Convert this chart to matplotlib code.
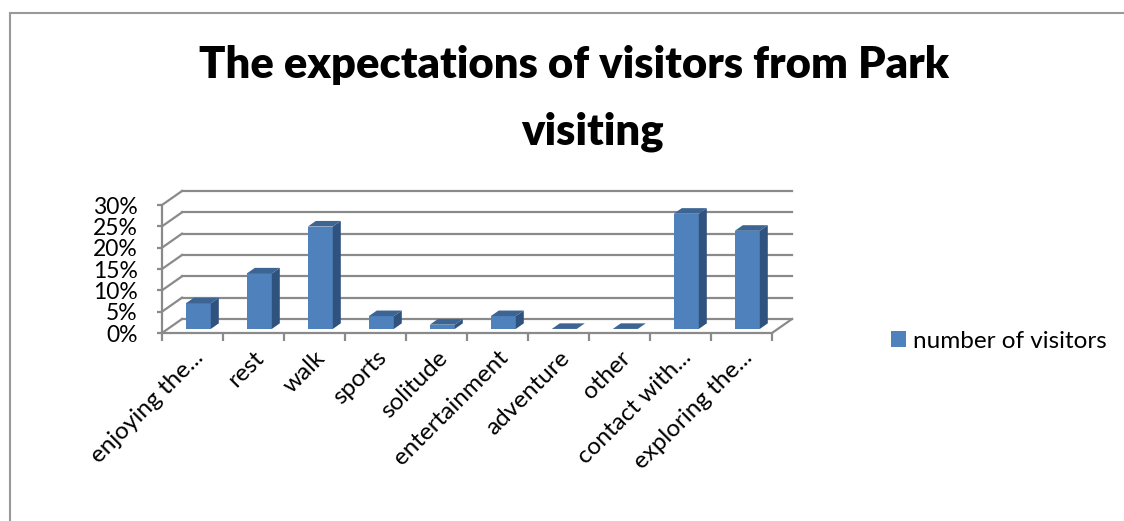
import matplotlib.pyplot as plt
import numpy as np
from matplotlib.patches import Polygon, Rectangle

# survey results (share of visitors, %)
categories = ["enjoying the...", "rest", "walk", "sports", "solitude",
              "entertainment", "adventure", "other", "contact with...",
              "exploring the..."]
values = [6, 13, 24, 3, 1, 3, 0, 0, 27, 23]
y_ticks = [0, 5, 10, 15, 20, 25, 30]
series_name = "number of visitors"
title_lines = ["The expectations of visitors from Park", "visiting"]

FRONT = "#4f81bd"
SIDE = "#30527f"
TOP = "#3c6594"
GRID = "#8a8a8a"

plt.rcParams['font.family'] = ['Lato', 'DejaVu Sans']

W, H = 1124, 521
fig = plt.figure(figsize=(W / 100, H / 100), dpi=100)

# front plane of the 3D plot area, in pixels
x0, x1, y0, y1 = 162, 772, 333, 205
ax = fig.add_axes([x0 / W, 1 - y0 / H, (x1 - x0) / W, (y0 - y1) / H])
n = len(categories)
ax.set_xlim(0, n)
ax.set_ylim(0, 30)

# oblique depth offset of the back wall (data units)
px_x = (x1 - x0) / n
px_y = (y0 - y1) / 30
DX = 20 / px_x
DY = 14 / px_y

# side wall and back wall gridlines
for v in y_ticks:
    ax.plot([0, DX], [v, v + DY], color=GRID, lw=1.6, clip_on=False, zorder=1)
    ax.plot([DX, n + DX], [v + DY, v + DY], color=GRID, lw=1.6,
            clip_on=False, zorder=1)
# right edge of the floor
ax.plot([n, n + DX], [0, DY], color=GRID, lw=1.6, clip_on=False, zorder=1)

# bars sit in the middle of the depth
f0, depth = 0.29, 0.40
bw = 25 / px_x
xc = np.arange(n) + 0.5 + f0 * DX
base = f0 * DY
bars = ax.bar(xc, values, width=bw, bottom=base, color=FRONT,
              label=series_name, zorder=3, clip_on=False)
ddx, ddy = depth * DX, depth * DY
for xi, v in zip(xc, values):
    xl, xr = xi - bw / 2, xi + bw / 2
    top = base + v
    ax.add_patch(Polygon([(xr, base), (xr, top), (xr + ddx, top + ddy),
                          (xr + ddx, base + ddy)], closed=True,
                         facecolor=SIDE, edgecolor="none", zorder=3,
                         clip_on=False))
    ax.add_patch(Polygon([(xl, top), (xr, top), (xr + ddx, top + ddy),
                          (xl + ddx, top + ddy)], closed=True,
                         facecolor=TOP, edgecolor="none", zorder=3,
                         clip_on=False))

# axes: only the front-left and front-bottom edges show
for s in ["top", "right"]:
    ax.spines[s].set_visible(False)
for s in ["left", "bottom"]:
    ax.spines[s].set_color(GRID)
    ax.spines[s].set_linewidth(1.6)
ax.patch.set_alpha(0)

ax.set_yticks(y_ticks)
ax.set_yticklabels([f"{v}%" for v in y_ticks])
ax.tick_params(axis="y", direction="out", length=3.6, width=1.6,
               color=GRID, labelsize=16.5, pad=14)

ax.set_xticks(np.arange(n + 1))
ax.set_xticklabels([])
ax.set_xticks(np.arange(n) + 0.5, minor=True)
ax.set_xticklabels(categories, minor=True, rotation=45, ha="right",
                   rotation_mode="anchor")
ax.tick_params(axis="x", which="major", direction="out", length=5.8,
               width=1.6, color=GRID)
ax.tick_params(axis="x", which="minor", length=0, labelsize=17.5, pad=10)

# title, two centred lines
fig.text(574 / W, 1 - 78 / H, title_lines[0], ha="center", va="baseline",
         fontsize=31.3, fontweight=800)
fig.text(592 / W, 1 - 145 / H, title_lines[1], ha="center", va="baseline",
         fontsize=31.3, fontweight=800)

ax.legend(loc="center left", bbox_to_anchor=(891 / W, 1 - 341 / H),
          bbox_transform=fig.transFigure, frameon=False, fontsize=17.5,
          handlelength=0.62, handleheight=0.62, handletextpad=0.3,
          borderpad=0, borderaxespad=0)

# chart frame (runs off the right and bottom edges)
fig.patches.append(Rectangle((10 / W, -0.1), 1.2, 1 - 13 / H + 0.1,
                             transform=fig.transFigure, fill=False,
                             edgecolor="#999999", lw=1.5))

fig.savefig("out.png", dpi=100)
